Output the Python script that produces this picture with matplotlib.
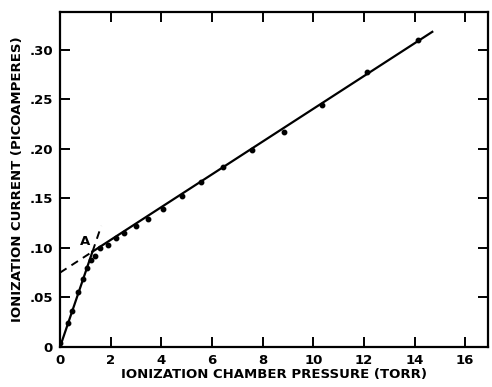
import matplotlib.pyplot as plt

# measured points (torr, picoamperes)
pressure = [0.0, 0.30, 0.46, 0.72, 0.92, 1.07, 1.21, 1.38, 1.58, 1.88, 2.21,
            2.54, 3.00, 3.47, 4.08, 4.81, 5.57, 6.44, 7.59, 8.85, 10.36,
            12.13, 14.15]
current = [0.004, 0.024, 0.036, 0.055, 0.069, 0.080, 0.088, 0.092, 0.100,
           0.103, 0.110, 0.115, 0.122, 0.129, 0.139, 0.152, 0.166, 0.182,
           0.199, 0.217, 0.244, 0.277, 0.310]

# fitted lines
steep_slope = 0.075
shallow_icpt = 0.075
shallow_slope = 0.01653
x_a = shallow_icpt / (steep_slope - shallow_slope)

xticks = [0, 2, 4, 6, 8, 10, 12, 14, 16]
yticks = [0, 0.05, 0.10, 0.15, 0.20, 0.25, 0.30]
ylabels = ['0', '.05', '.10', '.15', '.20', '.25', '.30']

plt.rcParams['font.family'] = 'DejaVu Sans'
plt.rcParams['font.weight'] = 'bold'

fig = plt.figure(figsize=(4.92, 3.87), dpi=100)
ax = fig.add_axes([60 / 492, 40 / 387, 428 / 492, 335 / 387])

# steep line: solid up to A, dashed past it
ax.plot([0, x_a], [0, steep_slope * x_a], '-', color='black', lw=1.6)
ax.plot([x_a, 1.63], [steep_slope * x_a, steep_slope * 1.63], '--',
        color='black', lw=1.4, dashes=(4, 3))
# shallow line: dashed from intercept to A, then solid
ax.plot([0, x_a], [shallow_icpt, shallow_icpt + shallow_slope * x_a], '--',
        color='black', lw=1.4, dashes=(4, 3))
ax.plot([x_a, 14.7], [shallow_icpt + shallow_slope * x_a,
                      shallow_icpt + shallow_slope * 14.7],
        '-', color='black', lw=1.6)

ax.plot(pressure, current, 'o', color='black', ms=3.2)
ax.text(0.99, 0.106, 'A', fontsize=9.5, fontweight='bold',
        ha='center', va='center')

ax.set_xlim(0, 16.9)
ax.set_ylim(0, 0.338)
ax.set_xticks(xticks)
ax.set_xticklabels([str(t) for t in xticks])
ax.set_yticks(yticks)
ax.set_yticklabels(ylabels)
ax.tick_params(direction='in', length=7, width=1.4, top=True, right=True,
               labelsize=9.5, pad=5)
for s in ax.spines.values():
    s.set_linewidth(1.6)

ax.set_xlabel('IONIZATION CHAMBER PRESSURE (TORR)', fontsize=9.5,
              fontweight='bold', labelpad=1)
ax.set_ylabel('IONIZATION CURRENT (PICOAMPERES)', fontsize=9.5,
              fontweight='bold', labelpad=4)

fig.savefig('out.png', dpi=100)
